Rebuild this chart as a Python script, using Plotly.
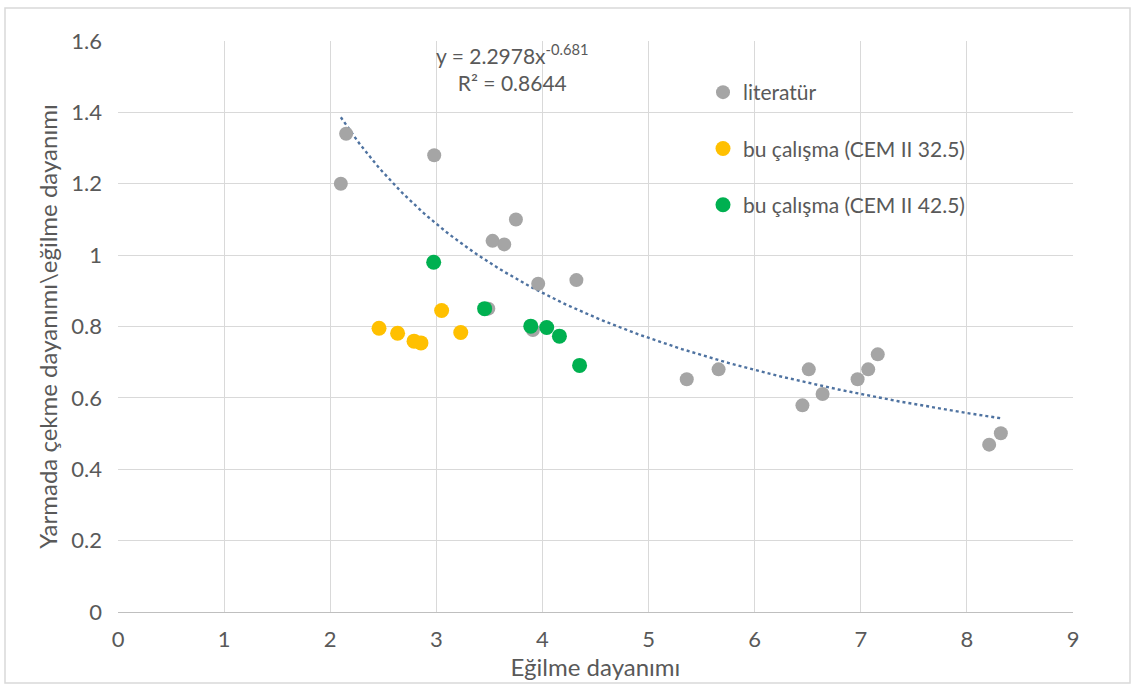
import numpy as np
import plotly.graph_objects as go

# Data
lit_x = [2.15, 2.10, 2.98, 3.53, 3.64, 3.75, 3.96, 4.32, 3.49, 3.91,
         5.36, 5.66, 6.45, 6.51, 6.64, 6.97, 7.07, 7.16, 8.21, 8.32]
lit_y = [1.34, 1.20, 1.28, 1.04, 1.03, 1.10, 0.92, 0.93, 0.85, 0.79,
         0.652, 0.68, 0.579, 0.68, 0.611, 0.652, 0.68, 0.722, 0.469, 0.501]

c325_x = [2.46, 2.635, 2.79, 2.855, 3.05, 3.23]
c325_y = [0.795, 0.781, 0.759, 0.754, 0.845, 0.783]

c425_x = [2.975, 3.455, 3.89, 4.04, 4.16, 4.35]
c425_y = [0.98, 0.85, 0.801, 0.797, 0.773, 0.691]

trend_a = 2.2978
trend_b = -0.681
trend_r2 = 0.8644

x_ticks = [0, 1, 2, 3, 4, 5, 6, 7, 8, 9]
y_ticks = [0, 0.2, 0.4, 0.6, 0.8, 1.0, 1.2, 1.4, 1.6]
y_tick_labels = ["0", "0.2", "0.4", "0.6", "0.8", "1", "1.2", "1.4", "1.6"]

FONT = "Lato"
TXT = "#595959"

tx = np.linspace(min(lit_x), max(lit_x), 200)
ty = trend_a * tx ** trend_b

fig = go.Figure()
fig.add_trace(go.Scatter(x=tx, y=ty, mode="lines",
                         line=dict(color="#4E72A0", width=2.4, dash="dot"),
                         showlegend=False, hoverinfo="skip"))
fig.add_trace(go.Scatter(x=lit_x, y=lit_y, mode="markers", name="literatür",
                         legendgroup="a",
                         marker=dict(color="#A5A5A5", size=14)))
fig.add_trace(go.Scatter(x=c325_x, y=c325_y, mode="markers",
                         name="bu çalışma (CEM II 32.5)", legendgroup="b",
                         marker=dict(color="#FFC000", size=15)))
fig.add_trace(go.Scatter(x=c425_x, y=c425_y, mode="markers",
                         name="bu çalışma (CEM II 42.5)", legendgroup="c",
                         marker=dict(color="#00B050", size=15)))

W, H = 1135, 687
ml, mr, mt, mb = 118, 62, 41, 75
pw, ph = W - ml - mr, H - mt - mb

def px2paper_x(p):
    return (p - ml) / pw

def px2paper_y(p):
    return (H - mb - p) / ph

fig.add_shape(type="rect", xref="paper", yref="paper",
              x0=px2paper_x(5), x1=px2paper_x(1130),
              y0=px2paper_y(683), y1=px2paper_y(8),
              line=dict(color="#D9D9D9", width=1.5), layer="below")

fig.add_annotation(xref="paper", yref="paper",
                   x=px2paper_x(512), y=px2paper_y(38), yanchor="top",
                   text=f"y = {trend_a}x<sup>{trend_b}</sup><br>R² = {trend_r2}",
                   showarrow=False, align="center",
                   font=dict(family=FONT, size=21, color=TXT))

fig.update_layout(
    width=W, height=H,
    margin=dict(l=ml, r=mr, t=mt, b=mb),
    paper_bgcolor="white", plot_bgcolor="white",
    font=dict(family=FONT, color=TXT, size=21),
    legend=dict(x=px2paper_x(703), y=px2paper_y(72), xanchor="left", yanchor="top",
                font=dict(family=FONT, size=21, color=TXT),
                bgcolor="rgba(0,0,0,0)", tracegroupgap=26, itemwidth=30),
    xaxis=dict(range=[0, 9], tickvals=x_ticks, showgrid=True, gridcolor="#D9D9D9",
               zeroline=False, showline=True, linecolor="#BFBFBF",
               ticks="", ticklabelstandoff=8,
               tickfont=dict(family=FONT, size=22, color=TXT),
               title=dict(text="Eğilme dayanımı", standoff=0,
                          font=dict(family=FONT, size=24, color=TXT))),
    yaxis=dict(range=[0, 1.6], tickvals=y_ticks, ticktext=y_tick_labels,
               showgrid=True, gridcolor="#D9D9D9", zeroline=False,
               showline=False, ticks="", ticklabelstandoff=15,
               tickfont=dict(family=FONT, size=22, color=TXT),
               title=dict(text="Yarmada çekme dayanımı\\eğilme dayanımı", standoff=6,
                          font=dict(family=FONT, size=24, color=TXT))),
)

fig.write_html("out.html", config={"displayModeBar": False},
               post_script="document.body.style.margin='0';document.body.style.overflow='hidden';")
